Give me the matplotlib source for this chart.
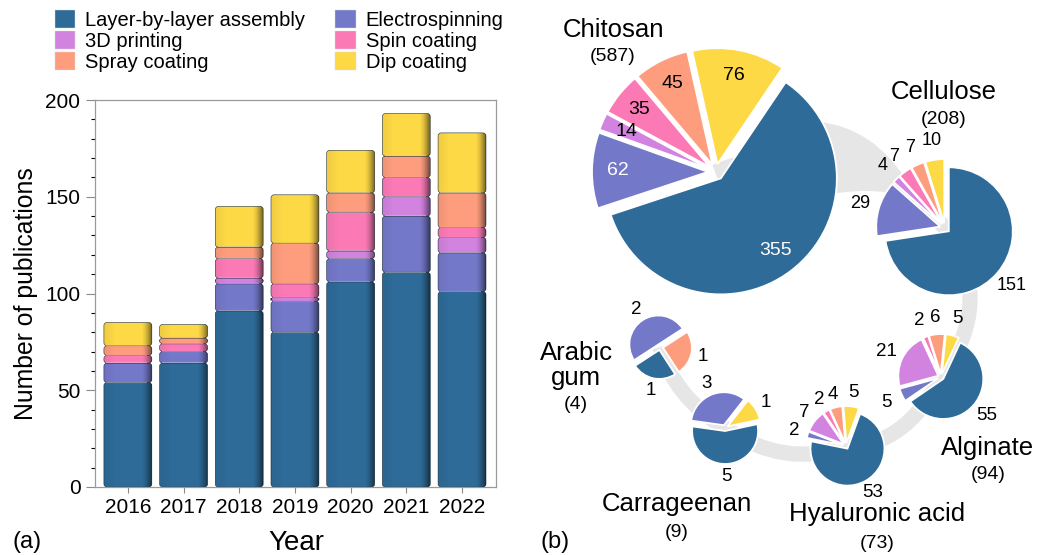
import numpy as np
import matplotlib
matplotlib.use("Agg")
import matplotlib.pyplot as plt
from matplotlib.patches import FancyBboxPatch, Patch, PathPatch
from matplotlib.path import Path
from matplotlib.ticker import MultipleLocator

plt.rcParams['font.family'] = ['Liberation Sans', 'DejaVu Sans']

# ---------------- data ----------------
years = ['2016', '2017', '2018', '2019', '2020', '2021', '2022']
methods = ['Layer-by-layer assembly', 'Electrospinning', '3D printing',
           'Spin coating', 'Spray coating', 'Dip coating']
lbl_assembly = [54, 64, 91, 80, 106, 111, 101]
electrospinning = [10, 6, 14, 16, 12, 29, 20]
printing_3d = [0, 0, 3, 2, 4, 10, 8]
spin_coating = [4, 4, 10, 7, 20, 10, 5]
spray_coating = [5, 3, 6, 21, 10, 11, 18]
dip_coating = [12, 7, 21, 25, 22, 22, 31]
series = [lbl_assembly, electrospinning, printing_3d, spin_coating,
          spray_coating, dip_coating]

colors = ['#2E6B98', '#7478C9', '#D283E0', '#FB7AB6', '#FD9D7D', '#FDD946']

# pie data (order: LbL, Electrospinning, 3D printing, Spin, Spray, Dip)
pie_names = ['Chitosan', 'Cellulose', 'Alginate', 'Hyaluronic acid',
             'Carrageenan', 'Arabic\ngum']
pie_totals = [587, 208, 94, 73, 9, 4]
chitosan = [355, 62, 14, 35, 45, 76]
cellulose = [151, 29, 4, 7, 7, 10]
alginate = [55, 5, 21, 2, 6, 5]
hyaluronic = [53, 2, 7, 2, 4, 5]
carrageenan = [5, 3, 0, 0, 0, 1]
arabic_gum = [1, 2, 0, 0, 1, 0]
pie_values = [chitosan, cellulose, alginate, hyaluronic, carrageenan, arabic_gum]

W, H = 1038, 555
fig = plt.figure(figsize=(W / 100, H / 100), dpi=100)

# ---------------- (a) stacked bars ----------------
ax = fig.add_axes([95 / W, (H - 487) / H, (496 - 95) / W, (487 - 100) / H])
x = np.arange(len(years))
bw = 0.86
bottom = np.zeros(len(years))
aspect = (55.7 / 1.935)
grad = np.zeros((1, 200, 4))
t = np.linspace(0, 1, 200)
grad[0, :, 3] = np.clip(0.06 * (1 - t / 0.25), 0, None) + 0.55 * np.clip((t - 0.78) / 0.22, 0, 1) ** 1.6
for vals, col in zip(series, colors):
    bars = ax.bar(x, vals, bw, bottom=bottom, color=col)
    for rect in bars:
        rect.set_visible(False)
        if rect.get_height() <= 0:
            continue
        rx, ry, rw, rh = rect.get_x(), rect.get_y(), rect.get_width(), rect.get_height()
        p = FancyBboxPatch((rx, ry), rw, rh,
                           boxstyle="round,pad=0,rounding_size=0.055",
                           mutation_aspect=aspect, facecolor=col,
                           edgecolor='#1f2f3f', linewidth=0.4, zorder=2)
        ax.add_patch(p)
        im = ax.imshow(grad, extent=(rx, rx + rw, ry, ry + rh), aspect='auto',
                       zorder=3, interpolation='bilinear')
        im.set_clip_path(p)
        if ry > 0:
            ax.plot([rx + 0.04, rx + rw - 0.1], [ry + 0.35, ry + 0.35],
                    color='white', alpha=0.35, lw=0.8, zorder=4)
    bottom += np.array(vals)

ax.set_xlim(-0.59, 6.61)
ax.set_ylim(0, 200)
ax.set_aspect('auto')
ax.set_xticks(x)
ax.set_xticklabels(years)
ax.yaxis.set_major_locator(MultipleLocator(50))
ax.yaxis.set_minor_locator(MultipleLocator(10))
ax.tick_params(axis='both', labelsize=15, colors='#8a8a8a', labelcolor='black')
ax.tick_params(axis='y', which='major', length=6.5, width=0.8, pad=4)
ax.tick_params(axis='y', which='minor', length=3, width=0.8)
ax.tick_params(axis='x', length=4, width=0.8, pad=4)
for s in ax.spines.values():
    s.set_color('#9a9a9a')
    s.set_linewidth(0.9)
ax.set_ylabel('Number of publications', fontsize=17.8, labelpad=5)
fig.text(296 / W, 1 - 550 / H, 'Year', fontsize=20, ha='center', va='baseline')
fig.text(13 / W, 1 - 548 / H, '(a)', fontsize=17, ha='left', va='baseline')

handles = [Patch(facecolor=colors[i], edgecolor='#dddddd', linewidth=0.3) for i in [0, 2, 4, 1, 3, 5]]
labels = [methods[i] for i in [0, 2, 4, 1, 3, 5]]
fig.legend(handles, labels, ncol=2, loc='upper left',
           bbox_to_anchor=(55 / W, 1 - 10 / H), frameon=False, fontsize=14.5,
           handlelength=1.0, handleheight=1.0, handletextpad=0.5,
           columnspacing=1.5, labelspacing=0.06, borderpad=0, borderaxespad=0)

# ---------------- (b) pies ----------------
rp = fig.add_axes([0, 0, 1, 1])
rp.set_axis_off()

def Y(y):
    return H - y

# connecting grey ribbon (decoration)
ribbon = '#e6e6e6'
verts = [(715, 172), (850, 118), (945, 228),
         (997, 300), (941, 377),
         (905, 447), (846, 446),
         (785, 469), (725, 428),
         (674, 397), (660, 347)]
codes = [Path.MOVETO] + [Path.CURVE3] * 10
rp.add_patch(PathPatch(Path([(a, Y(b)) for a, b in verts], codes),
                       facecolor='none', edgecolor=ribbon, lw=11, zorder=0,
                       capstyle='butt'))
wide = [(820, 122), (872, 128), (905, 178), (905, 196), (870, 186), (820, 196), (820, 122)]
rp.add_patch(PathPatch(Path([(a, Y(b)) for a, b in wide],
                            [Path.MOVETO, Path.CURVE3, Path.CURVE3, Path.LINETO,
                             Path.CURVE3, Path.CURVE3, Path.CLOSEPOLY]),
                       facecolor=ribbon, edgecolor='none', zorder=0))

pie_layout = [  # cx, cy(px from top), r, startangle, explode, labeldist, fontsize
    (716, 172, 116, 56, 8, 0.78, 14),
    (945, 228, 64, 90, 5, 1.3, 13),
    (941, 377, 40, 65, 3, 1.43, 13.5),
    (846, 446, 37, 70, 3, 1.37, 13.5),
    (725, 428, 33, 12, 3, 1.37, 13.5),
    (660, 347, 29, -57, 3, 1.42, 13.5),
]

for vals, (cx, cy, r, st, ex, ld, fs) in zip(pie_values, pie_layout):
    idx = [i for i, v in enumerate(vals) if v > 0]
    v = [vals[i] for i in idx]
    wedges, texts = rp.pie(v, colors=[colors[i] for i in idx], center=(cx, Y(cy)),
                           radius=r, startangle=st, counterclock=False,
                           explode=[ex] * len(v), labels=[str(a) for a in v],
                           labeldistance=ld, textprops=dict(fontsize=fs),
                           wedgeprops=dict(edgecolor='white', linewidth=1.3),
                           frame=True)
    for w in wedges:
        w.set_zorder(2)
    for tx, i in zip(texts, idx):
        tx.set_ha('center')
        tx.set_va('center')
        tx.set_zorder(5)
        if ld < 1 and i in (0, 1):
            tx.set_color('white')

title_pos = [  # x, baseline y of name, baseline y of total
    (613, 37, 61),
    (944, 99, 124),
    (988, 455, 479),
    (877, 521, 548),
    (677, 511, 537),
    (576, 385, 409),
]
for name, tot, (tx, ty, ty2) in zip(pie_names, pie_totals, title_pos):
    rp.text(tx, Y(ty), name, fontsize=18.5, ha='center', va='baseline',
            linespacing=1.05, multialignment='center')
    rp.text(tx, Y(ty2), f'({tot})', fontsize=14, ha='center', va='baseline')

rp.text(540, Y(548), '(b)', fontsize=17, ha='left', va='baseline')

rp.set_xlim(0, W)
rp.set_ylim(0, H)
rp.set_aspect('auto')
rp.set_axis_off()

fig.savefig('out.png', dpi=100)
